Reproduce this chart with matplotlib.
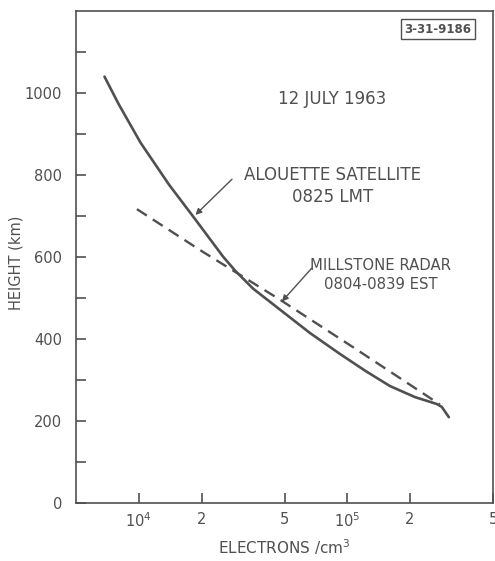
import numpy as np
import matplotlib
matplotlib.use('Agg')
import matplotlib.pyplot as plt

plt.rcParams['font.family'] = ['DejaVu Sans']
plt.rcParams['mathtext.fontset'] = 'dejavusans'

INK = '#505050'

# Alouette topside sounder profile (solid)
alouette_ne = [6.85e3, 7.99e3, 1.02e4, 1.40e4, 1.83e4, 2.54e4, 2.90e4, 3.54e4,
               4.76e4, 6.63e4, 9.23e4, 1.22e5, 1.60e5, 2.11e5, 2.69e5, 2.84e5,
               2.93e5, 3.07e5]
alouette_h = [1040, 974, 879, 776, 698, 601, 567, 523,
              472, 415, 364, 323, 286, 259, 242, 235,
              225, 210]

# Millstone incoherent scatter profile (dashed)
millstone_ne = [9.8e3, 2.0e4, 4.77e4, 1.07e5, 2.78e5]
millstone_h = [717, 615, 496, 380, 241]

x_ticks = [1e4, 2e4, 5e4, 1e5, 2e5, 5e5]
x_ticklabels = ['10$^4$', '2', '5', '10$^5$', '2', '5']
y_major = [0, 200, 400, 600, 800, 1000]
y_minor = [100, 300, 500, 700, 900, 1100]


def main():
    fig = plt.figure(figsize=(4.95, 5.61), dpi=100)
    ax = fig.add_axes([0.1535, 0.1028, 0.8425, 0.8776])

    ax.set_xscale('log')
    ax.set_xlim(5e3, 5e5)
    ax.set_ylim(0, 1200)

    ax.plot(alouette_ne, alouette_h, color=INK, lw=1.9,
            solid_capstyle='round', solid_joinstyle='round')
    ax.plot(millstone_ne, millstone_h, color=INK, lw=1.7, dashes=(5, 3))

    # ticks
    ax.set_xticks(x_ticks)
    ax.set_xticklabels(x_ticklabels)
    ax.xaxis.set_minor_locator(matplotlib.ticker.NullLocator())
    ax.set_yticks(y_major)
    ax.set_yticks(y_minor, minor=True)
    ax.tick_params(axis='both', which='both', direction='in', color=INK,
                   width=1.2, length=7.5, labelcolor=INK, labelsize=10.5)
    ax.tick_params(axis='y', which='both', pad=10)
    ax.tick_params(axis='x', which='both', pad=6)
    for sp in ax.spines.values():
        sp.set_color(INK)
        sp.set_linewidth(1.2)

    ax.set_ylabel('HEIGHT (km)', color=INK, fontsize=10.5)
    ax.yaxis.set_label_coords(-0.125, 0.488)
    ax.set_xlabel('ELECTRONS /cm$^3$', color=INK, fontsize=11, labelpad=5)

    ax.text(8.46e4, 986, '12 JULY 1963', ha='center', va='center',
            color=INK, fontsize=12)

    ax.text(8.46e4, 774, 'ALOUETTE SATELLITE\n0825 LMT', ha='center',
            va='center', multialignment='center', linespacing=1.25,
            color=INK, fontsize=12)
    ax.annotate('', xy=(1.87e4, 703), xytext=(2.80e4, 790),
                arrowprops=dict(arrowstyle='-|>', color=INK, lw=1.0,
                                mutation_scale=9, shrinkA=0, shrinkB=0))

    ax.text(1.45e5, 556, 'MILLSTONE RADAR\n0804-0839 EST', ha='center',
            va='center', multialignment='center', linespacing=1.3,
            color=INK, fontsize=10.75)
    ax.annotate('', xy=(4.86e4, 492), xytext=(6.75e4, 573),
                arrowprops=dict(arrowstyle='-|>', color=INK, lw=1.0,
                                mutation_scale=9, shrinkA=0, shrinkB=0))

    # drawing number box
    fig.text(0.884, 0.948, '3-31-9186', ha='center', va='center',
             color=INK, fontsize=8.5, fontweight='bold',
             bbox=dict(boxstyle='square,pad=0.3', fc='white', ec=INK, lw=1.0))

    fig.savefig('out.png', dpi=100)
    plt.close(fig)


if __name__ == '__main__':
    main()
